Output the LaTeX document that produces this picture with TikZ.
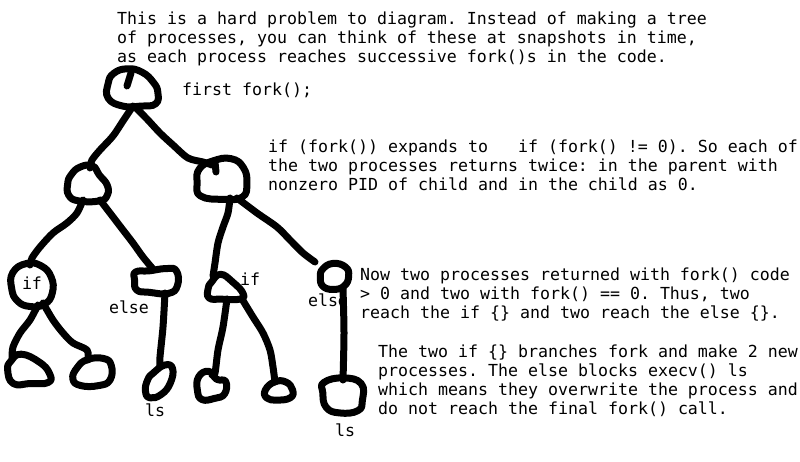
\documentclass[tikz,border=0pt]{standalone}
\usepackage{fontspec}
\setmonofont{DejaVu Sans Mono}
\newcommand{\mytt}{\ttfamily\fontsize{16.6pt}{19pt}\selectfont}
\tikzset{
  txt/.style={anchor=base west, inner sep=0pt, font=\mytt},
  lbl/.style={anchor=base, inner sep=0pt, font=\mytt},
  ink/.style={line width=7pt, line cap=round, line join=round, black},
}
\newcommand{\myblob}[3]{%
  \begin{scope}[shift={(#1,#2)}, scale=1.13, shift={(-#1,-#2)}]
    \draw[ink] plot[smooth cycle, tension=0.8] coordinates {#3};
  \end{scope}}
\begin{document}
\begin{tikzpicture}[x=1pt,y=-1pt]
\useasboundingbox (0,0) rectangle (800,462);
\fill[white] (0,0) rectangle (800,462);

% ---- blobs ----
\myblob{133}{88}{(111,84) (116,75) (128,71) (141,74) (151,83) (155,92) (153,102) (140,104) (124,104) (111,97)}
\draw[ink] (131,73) -- (127,86);
\myblob{88}{184}{(73,176) (81,169) (92,168) (98,176) (105,185) (105,194) (98,199) (80,199) (71,194) (70,184)}
\myblob{222}{179}{(202,170) (214,163) (230,161) (241,169) (244,183) (240,195) (223,197) (203,194) (200,182)}
\draw[ink] (215,162) -- (216,172);
\myblob{32}{285}{(15,274) (27,266) (40,268) (49,278) (50,292) (43,302) (30,304) (19,299) (14,288)}
\myblob{156}{281}{(138,273) (150,272) (165,270) (174,272) (175,285) (167,292) (150,291) (139,289) (137,280)}
\myblob{28}{370}{(13,362) (22,356) (38,363) (47,373) (46,381) (30,382) (15,382) (10,370)}
\myblob{92}{372}{(79,368) (88,361) (102,360) (109,366) (108,379) (98,384) (82,384) (75,378)}
\myblob{159}{382}{(154,374) (164,367) (171,370) (169,383) (161,393) (151,396) (147,390) (149,380)}
\myblob{225}{289}{(213,283) (221,276) (232,283) (241,293) (238,298) (222,298) (211,297) (210,289)}
\myblob{334}{277}{(324,270) (333,265) (344,268) (347,276) (343,285) (333,288) (324,285) (322,277)}
\myblob{211}{386}{(200,378) (209,373) (216,380) (224,382) (223,393) (214,397) (203,398) (199,390)}
\myblob{279}{391}{(267,390) (275,383) (285,383) (291,390) (289,397) (277,399) (268,397)}
\myblob{342}{396}{(326,384) (343,380) (359,385) (360,400) (356,409) (340,411) (328,406) (325,393)}

% ---- branches ----
\draw[ink] plot[smooth, tension=0.5] coordinates {(133,106) (123,121) (113,136) (100,150) (92,160) (90,168)};
\draw[ink] plot[smooth, tension=0.5] coordinates {(135,107) (147,119) (160,133) (173,145) (188,158) (203,162) (212,165)};
\draw[ink] plot[smooth, tension=0.5] coordinates {(83,200) (77,213) (67,223) (53,233) (40,247) (32,258) (30,265)};
\draw[ink] plot[smooth, tension=0.5] coordinates {(100,200) (110,213) (123,230) (133,243) (143,257) (153,269)};
\draw[ink] plot[smooth, tension=0.5] coordinates {(38,305) (30,320) (20,333) (13,347) (12,358)};
\draw[ink] plot[smooth, tension=0.5] coordinates {(43,303) (53,320) (63,333) (73,343) (87,350) (88,360)};
\draw[ink] plot[smooth, tension=0.5] coordinates {(165,293) (163,327) (160,357) (160,367)};
\draw[ink] plot[smooth, tension=0.5] coordinates {(230,198) (228,213) (223,227) (218,243) (215,263) (213,276)};
\draw[ink] plot[smooth, tension=0.5] coordinates {(237,198) (257,213) (277,227) (290,240) (303,253) (315,262)};
\draw[ink] plot[smooth, tension=0.5] coordinates {(227,299) (223,327) (218,350) (215,373) (212,375)};
\draw[ink] plot[smooth, tension=0.5] coordinates {(242,299) (253,317) (263,333) (270,350) (273,367) (275,382)};
\draw[ink] plot[smooth, tension=0.5] coordinates {(343,289) (344,333) (343,380)};

% ---- labels ----
\node[lbl] (if1) at (32,290) {if};
\node[lbl] (else1) at (129,313) {else};
\node[lbl] (ls1) at (155,416) {ls};
\node[lbl] (if2) at (250,285) {if};
\node[lbl] (else2) at (328,306) {else};
\node[lbl] (ls2) at (345,436) {ls};

% ---- text ----
\node[txt] (a1) at (117,24.5) {This is a hard problem to diagram. Instead of making a tree};
\node[txt] (a2) at (117,43.5) {of processes, you can think of these at snapshots in time,};
\node[txt] (a3) at (117,62.5) {as each process reaches successive fork()s in the code.};
\node[txt] (b1) at (182,95.5) {first fork();};
\node[txt] (c1) at (268,152.5) {if (fork()) expands to\ \ \ if (fork() != 0). So each of};
\node[txt] (c2) at (268,171.5) {the two processes returns twice: in the parent with};
\node[txt] (c3) at (268,190.5) {nonzero PID of child and in the child as 0.};
\node[txt] (d1) at (360,280.5) {Now two processes returned with fork() code};
\node[txt] (d2) at (360,299.5) {> 0 and two with fork() == 0. Thus, two};
\node[txt] (d3) at (360,318.5) {reach the if \{\} and two reach the else \{\}.};
\node[txt] (e1) at (378,357) {The two if \{\} branches fork and make 2 new};
\node[txt] (e2) at (378,376) {processes. The else blocks execv() ls};
\node[txt] (e3) at (378,395) {which means they overwrite the process and};
\node[txt] (e4) at (378,414) {do not reach the final fork() call.};
\end{tikzpicture}
\end{document}
